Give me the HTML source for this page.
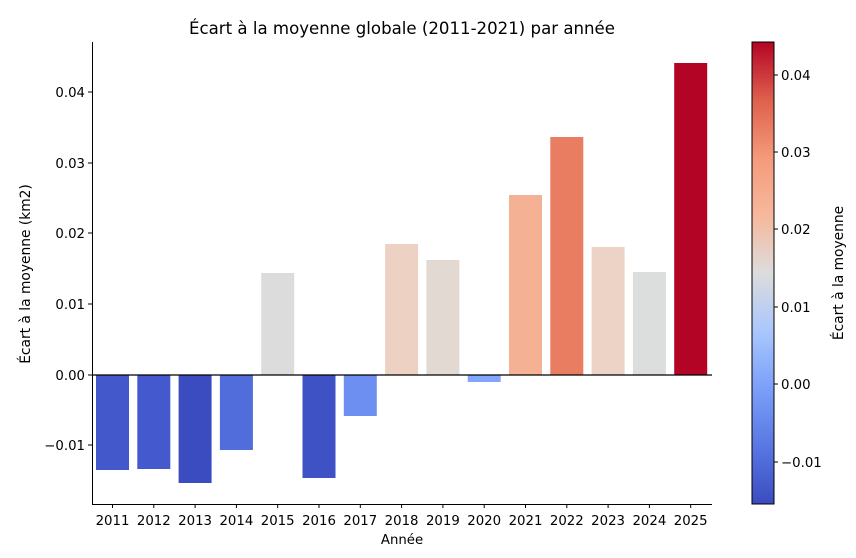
<!DOCTYPE html>
<html><head><meta charset="utf-8"><style>
body{margin:0;background:#fff}
svg{display:block;font-family:"DejaVu Sans","Liberation Sans",sans-serif}
</style></head><body>
<svg width="856" height="558" xmlns="http://www.w3.org/2000/svg">
<defs>
<linearGradient id="cw" x1="0" y1="1" x2="0" y2="0">
<stop offset="0" stop-color="#3b4cc0"/>
<stop offset="0.125" stop-color="#5977e3"/>
<stop offset="0.25" stop-color="#7b9ff9"/>
<stop offset="0.375" stop-color="#aac7fd"/>
<stop offset="0.5" stop-color="#dddcdc"/>
<stop offset="0.625" stop-color="#f7b89c"/>
<stop offset="0.75" stop-color="#f49a7b"/>
<stop offset="0.875" stop-color="#de604d"/>
<stop offset="1" stop-color="#b40426"/>
</linearGradient>
</defs>
<text x="402" y="34" font-size="16.6" text-anchor="middle">Écart à la moyenne globale (2011-2021) par année</text>
<g>
<rect x="96" y="375" width="33" height="95" fill="#4358cb"/>
<rect x="137.3" y="375" width="33" height="94" fill="#4459ce"/>
<rect x="178.6" y="375" width="33" height="108" fill="#3b4cc0"/>
<rect x="219.9" y="375" width="33" height="75" fill="#516ddb"/>
<rect x="261.2" y="273" width="33" height="102" fill="#dcdcdc"/>
<rect x="302.5" y="375" width="33" height="103" fill="#3e51c5"/>
<rect x="343.8" y="375" width="33" height="41" fill="#6c8ff1"/>
<rect x="385.1" y="244" width="33" height="131" fill="#edd1c2"/>
<rect x="426.4" y="260" width="33" height="115" fill="#e3d9d3"/>
<rect x="467.7" y="375" width="33" height="7" fill="#82a6fb"/>
<rect x="509" y="195" width="33" height="180" fill="#f5b194"/>
<rect x="550.3" y="137" width="33" height="238" fill="#e87d61"/>
<rect x="591.6" y="247" width="33" height="128" fill="#ecd3c5"/>
<rect x="632.9" y="272" width="33" height="103" fill="#dcdddd"/>
<rect x="674.2" y="63" width="33" height="312" fill="#b40426"/>
</g>
<line x1="92" y1="375" x2="712" y2="375" stroke="#000" stroke-width="1.2"/>
<path d="M92.5 42 V504.5 H712" fill="none" stroke="#000" stroke-width="1"/>
<g font-size="13.3" text-anchor="end">
<line x1="88" x2="92" y1="92" y2="92" stroke="#000"/><text x="85" y="97">0.04</text>
<line x1="88" x2="92" y1="163" y2="163" stroke="#000"/><text x="85" y="168">0.03</text>
<line x1="88" x2="92" y1="233" y2="233" stroke="#000"/><text x="85" y="238">0.02</text>
<line x1="88" x2="92" y1="304" y2="304" stroke="#000"/><text x="85" y="309">0.01</text>
<line x1="88" x2="92" y1="375" y2="375" stroke="#000"/><text x="85" y="380">0.00</text>
<line x1="88" x2="92" y1="445" y2="445" stroke="#000"/><text x="85" y="450">−0.01</text>
</g>
<g font-size="13.3" text-anchor="middle">
<g stroke="#000">
<line x1="112.5" x2="112.5" y1="504" y2="508"/><line x1="153.8" x2="153.8" y1="504" y2="508"/><line x1="195.1" x2="195.1" y1="504" y2="508"/><line x1="236.4" x2="236.4" y1="504" y2="508"/><line x1="277.7" x2="277.7" y1="504" y2="508"/><line x1="319" x2="319" y1="504" y2="508"/><line x1="360.3" x2="360.3" y1="504" y2="508"/><line x1="401.6" x2="401.6" y1="504" y2="508"/><line x1="442.9" x2="442.9" y1="504" y2="508"/><line x1="484.2" x2="484.2" y1="504" y2="508"/><line x1="525.5" x2="525.5" y1="504" y2="508"/><line x1="566.8" x2="566.8" y1="504" y2="508"/><line x1="608.1" x2="608.1" y1="504" y2="508"/><line x1="649.4" x2="649.4" y1="504" y2="508"/><line x1="690.7" x2="690.7" y1="504" y2="508"/>
</g>
<text x="112.5" y="525">2011</text><text x="153.8" y="525">2012</text><text x="195.1" y="525">2013</text><text x="236.4" y="525">2014</text><text x="277.7" y="525">2015</text><text x="319" y="525">2016</text><text x="360.3" y="525">2017</text><text x="401.6" y="525">2018</text><text x="442.9" y="525">2019</text><text x="484.2" y="525">2020</text><text x="525.5" y="525">2021</text><text x="566.8" y="525">2022</text><text x="608.1" y="525">2023</text><text x="649.4" y="525">2024</text><text x="690.7" y="525">2025</text>
</g>
<text x="402" y="544" font-size="13.3" text-anchor="middle">Année</text>
<text transform="translate(30 274) rotate(-90)" font-size="13.8" text-anchor="middle">Écart à la moyenne (km2)</text>
<rect x="752" y="42" width="22" height="462" fill="url(#cw)" stroke="#000" stroke-width="1"/>
<g font-size="13.3">
<line x1="774" x2="778" y1="75" y2="75" stroke="#000"/><text x="781" y="80">0.04</text>
<line x1="774" x2="778" y1="152" y2="152" stroke="#000"/><text x="781" y="157">0.03</text>
<line x1="774" x2="778" y1="229" y2="229" stroke="#000"/><text x="781" y="234">0.02</text>
<line x1="774" x2="778" y1="307" y2="307" stroke="#000"/><text x="781" y="312">0.01</text>
<line x1="774" x2="778" y1="384" y2="384" stroke="#000"/><text x="781" y="389">0.00</text>
<line x1="774" x2="778" y1="462" y2="462" stroke="#000"/><text x="781" y="467">−0.01</text>
</g>
<text transform="translate(843 273) rotate(-90)" font-size="13.8" text-anchor="middle">Écart à la moyenne</text>
</svg>
</body></html>
